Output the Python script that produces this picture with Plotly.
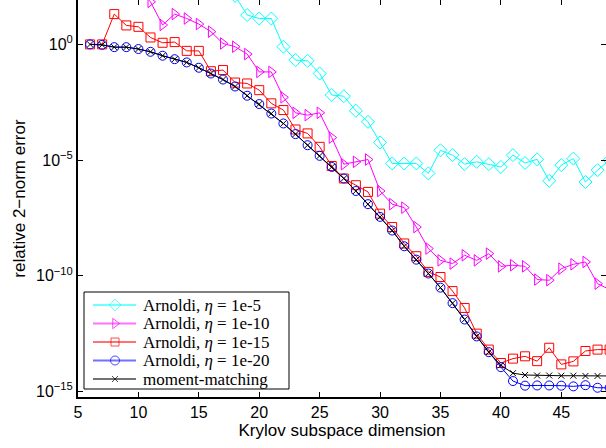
import plotly.graph_objects as go

# Krylov subspace dimensions
x_cyan = list(range(18, 50))
x_mag = list(range(10, 50))
x_full = list(range(6, 50))

# log10 of relative 2-norm error
cyan_log10 = [2.1, 1.27, 1.12, 1.12, -0.10, -0.68, -0.71, -1.26, -2.19, -2.24, -2.87, -3.35,
              -4.24, -5.15, -5.15, -5.15, -5.58, -4.58, -4.79, -5.18, -5.08, -5.18, -5.30,
              -4.79, -5.13, -4.97, -5.90, -5.22, -4.94, -5.95, -5.44, -5.0]
mag_log10 = [2.4, 1.84, 0.84, 1.31, 1.12, 0.88, 0.55, 0.04, -0.10, -0.42, -1.19, -1.19,
             -2.29, -2.96, -3.06, -2.96, -4.03, -5.18, -5.08, -4.98, -6.34, -6.91, -7.06,
             -7.90, -8.83, -9.34, -9.48, -9.12, -9.34, -9.05, -9.60, -9.55, -9.60, -10.17,
             -10.20, -9.70, -9.51, -9.41, -10.35, -10.6]
red_log10 = [0.0, 0.0, 1.31, 0.82, 0.76, 0.30, 0.07, 0.10, -0.28, -0.28, -1.16, -1.11,
             -1.65, -1.69, -1.98, -2.55, -2.84, -3.68, -3.85, -4.43, -5.26, -5.80, -6.09,
             -6.38, -7.32, -7.90, -8.61, -9.16, -9.84, -10.06, -10.67, -11.40, -12.51,
             -13.20, -13.78, -13.59, -13.49, -13.70, -13.12, -13.84, -13.71, -13.26, -13.20,
             -13.2]
blue_log10 = [0.0, -0.02, -0.12, -0.12, -0.20, -0.32, -0.49, -0.64, -0.78, -1.01, -1.26,
              -1.52, -1.82, -2.22, -2.58, -2.99, -3.42, -3.88, -4.36, -4.82, -5.30, -5.80,
              -6.34, -6.91, -7.46, -8.05, -8.73, -9.31, -9.91, -10.52, -11.19, -11.90,
              -12.63, -13.31, -13.96, -14.56, -14.76, -14.75, -14.75, -14.76, -14.79,
              -14.74, -14.85, -14.85]
mm_log10 = [0.0, -0.02, -0.12, -0.12, -0.20, -0.32, -0.49, -0.64, -0.78, -1.01, -1.26,
            -1.52, -1.82, -2.22, -2.58, -2.99, -3.42, -3.88, -4.36, -4.82, -5.30, -5.80,
            -6.34, -6.91, -7.46, -8.05, -8.73, -9.31, -9.91, -10.52, -11.19, -11.90,
            -12.63, -13.31, -13.88, -14.22, -14.30, -14.32, -14.32, -14.33, -14.33,
            -14.34, -14.34, -14.34]

names = ["Arnoldi, <i>η</i> = 1e-5", "Arnoldi, <i>η</i> = 1e-10",
         "Arnoldi, <i>η</i> = 1e-15", "Arnoldi, <i>η</i> = 1e-20", "moment-matching"]

y_tickvals = [1e0, 1e-5, 1e-10, 1e-15]
y_ticktext = ["10<sup>0</sup>", "10<sup>−5</sup>", "10<sup>−10</sup>", "10<sup>−15</sup>"]
x_tickvals = [5, 10, 15, 20, 25, 30, 35, 40, 45]

colors = ["#00FFFF", "#FF00FF", "#FF0000", "#0000FF", "#000000"]
symbols = ["diamond-open", "triangle-right-open", "square-open", "circle-open", "x-thin-open"]
msizes = [10, 10, 9, 9, 6]
xs_all = [x_cyan, x_mag, x_full, x_full, x_full]
ys_all = [cyan_log10, mag_log10, red_log10, blue_log10, mm_log10]


def vals(logs):
    return [10 ** v for v in logs]


fig = go.Figure()
for xs, ys, col, sym, sz, nm in zip(xs_all, ys_all, colors, symbols, msizes, names):
    fig.add_trace(go.Scatter(
        x=xs, y=vals(ys), name=nm, mode="lines+markers", showlegend=False,
        line=dict(color=col, width=1),
        marker=dict(symbol=sym, size=sz, color=col, line=dict(color=col, width=1)),
    ))

# invisible trace for mirrored tick axes (top / right)
fig.add_trace(go.Scatter(x=[5], y=[1], xaxis="x2", yaxis="y2", mode="markers",
                         marker=dict(opacity=0), showlegend=False, hoverinfo="skip"))

# ---- hand-made legend, laid out on a pixel-unit helper axis (x3/y3) ----
L_LEFT, L_RIGHT, L_TOP, L_BOTTOM = 84, 289, 292, 389
row_y = [305, 323.5, 342, 360.5, 379]
line_x0, line_x1, mark_x, text_x = 93, 136, 115, 141

shapes = [dict(type="rect", xref="x3", yref="y3", x0=L_LEFT, x1=L_RIGHT, y0=L_TOP,
               y1=L_BOTTOM, line=dict(color="black", width=1), fillcolor="white",
               layer="below")]
annotations = []
for i, (col, nm) in enumerate(zip(colors, names)):
    shapes.append(dict(type="line", xref="x3", yref="y3", x0=line_x0, x1=line_x1,
                       y0=row_y[i], y1=row_y[i], layer="below", opacity=0.55,
                       line=dict(color=col, width=2)))
    annotations.append(dict(xref="x3", yref="y3", x=text_x, y=row_y[i], text=nm,
                            showarrow=False, xanchor="left", yanchor="middle",
                            font=dict(family="Liberation Serif, Times New Roman, serif",
                                      size=17, color="black")))

fig.add_trace(go.Scatter(
    x=[mark_x] * 5, y=row_y, xaxis="x3", yaxis="y3", mode="markers",
    marker=dict(symbol=symbols, size=[9, 9, 8, 9, 6], color=colors,
                line=dict(color=colors, width=1)),
    showlegend=False, hoverinfo="skip", cliponaxis=False))

xr = [5, 48.7]
yr = [-15.25, 1.92]
fontf = "Liberation Sans, Arial, sans-serif"

fig.update_layout(
    width=606, height=448,
    margin=dict(l=78, r=0, t=0, b=51),
    paper_bgcolor="white", plot_bgcolor="white",
    showlegend=False,
    font=dict(family=fontf, size=16, color="black"),
    shapes=shapes, annotations=annotations,
    xaxis=dict(range=xr, tickvals=x_tickvals, ticks="inside", ticklen=5,
               showgrid=False, zeroline=False, showline=True, linecolor="black",
               linewidth=2, tickcolor="black",
               title=dict(text="Krylov subspace dimension", font=dict(size=17), standoff=2),
               tickfont=dict(size=16)),
    yaxis=dict(type="log", range=yr, tickvals=y_tickvals, ticktext=y_ticktext,
               ticks="inside", ticklen=5, showgrid=False, zeroline=False,
               showline=True, linecolor="black", linewidth=2, tickcolor="black",
               title=dict(text="relative 2−norm error", font=dict(size=17), standoff=6),
               tickfont=dict(size=16)),
    xaxis2=dict(range=xr, overlaying="x", side="top", tickvals=x_tickvals,
                ticks="inside", ticklen=5, showticklabels=False, showgrid=False,
                zeroline=False, showline=False, tickcolor="black"),
    yaxis2=dict(type="log", range=yr, overlaying="y", side="right", tickvals=y_tickvals,
                ticks="inside", ticklen=5, showticklabels=False, showgrid=False,
                zeroline=False, showline=False, tickcolor="black"),
    xaxis3=dict(range=[78, 606], overlaying="x", anchor="y3", visible=False),
    yaxis3=dict(range=[397, 0], overlaying="y", anchor="x3", visible=False),
)

fig.write_html("out.html", config={"displayModeBar": False},
               post_script="document.body.style.margin='0';document.body.style.overflow='hidden';")
